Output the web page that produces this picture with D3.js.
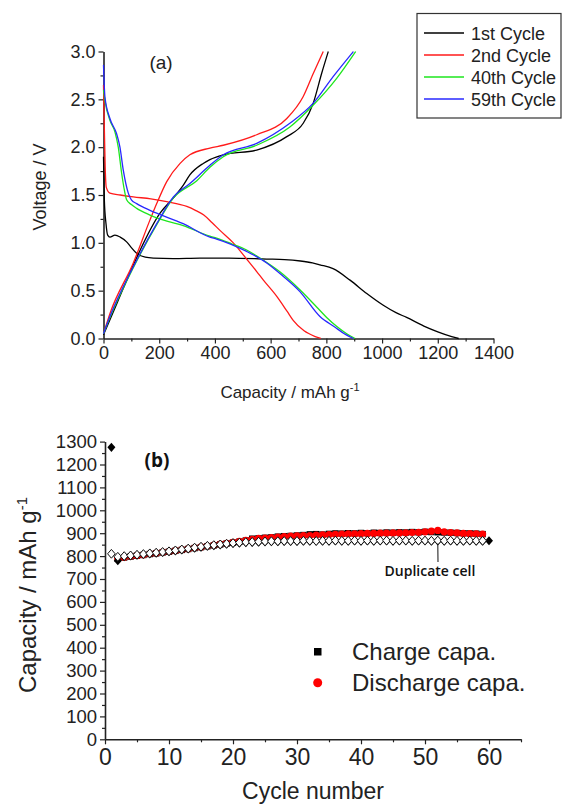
<!DOCTYPE html>
<html>
<head>
<meta charset="utf-8">
<script src="https://cdn.jsdelivr.net/npm/d3@7"></script>
<style>
  body { margin: 0; background: #fff; }
  svg { display: block; font-family: "Liberation Sans", Arial, sans-serif; }
</style>
</head>
<body>
<svg id="chart" width="562" height="805"></svg>
<script>
// ---- panel (a): voltage profiles [capacity mAh/g, voltage V]
const cycle1Discharge = [[0,1.9],[3,1.45],[9,1.2],[15,1.08],[23,1.06],[41,1.08],[60,1.06],[83,1.01],[100,0.95],[119,0.89],[150,0.85],[179,0.84],[250,0.835],[346,0.84],[450,0.84],[586,0.83],[650,0.825],[707,0.81],[750,0.79],[777,0.77],[824,0.73],[885,0.61],[945,0.47],[1003,0.35],[1050,0.27],[1088,0.22],[1150,0.13],[1200,0.07],[1250,0.02],[1275,0]];
const cycle1Charge = [[0,0.04],[50,0.38],[100,0.72],[131,0.92],[203,1.31],[251,1.47],[286,1.6],[310,1.71],[358,1.83],[382,1.87],[430,1.92],[550,1.97],[658,2.11],[717,2.25],[753,2.46],[783,2.77],[807,3.0]];
const cycle2Discharge = [[0,2.65],[3,2.2],[6,1.8],[10,1.58],[23,1.52],[60,1.5],[107,1.48],[170,1.46],[227,1.43],[299,1.38],[330,1.34],[360,1.29],[390,1.21],[418,1.13],[466,1.0],[514,0.83],[550,0.7],[574,0.61],[622,0.44],[660,0.28],[681,0.19],[720,0.08],[760,0.02],[780,0]];
const cycle2Charge = [[0,0.05],[23,0.26],[107,0.79],[167,1.24],[191,1.41],[227,1.64],[275,1.83],[310,1.92],[382,1.99],[430,2.02],[550,2.13],[658,2.3],[717,2.53],[753,2.77],[789,3.0]];
const cycle40Discharge = [[0,2.6],[5,2.49],[23,2.28],[41,2.16],[53,2.0],[65,1.73],[75,1.55],[83,1.45],[100,1.4],[119,1.36],[167,1.29],[191,1.26],[286,1.18],[382,1.07],[406,1.05],[460,0.99],[514,0.925],[562,0.84],[632,0.7],[705,0.51],[765,0.33],[801,0.22],[840,0.12],[873,0.05],[903,0]];
const cycle40Charge = [[0,0.05],[23,0.22],[107,0.74],[191,1.19],[251,1.47],[335,1.65],[382,1.79],[430,1.9],[550,2.02],[669,2.21],[753,2.44],[837,2.72],[905,3.0]];
const cycle59Discharge = [[0,2.86],[5,2.53],[23,2.3],[47,2.14],[59,2.0],[71,1.76],[89,1.52],[100,1.45],[119,1.41],[167,1.34],[191,1.31],[286,1.2],[382,1.06],[406,1.04],[514,0.91],[586,0.79],[645,0.65],[705,0.49],[777,0.23],[830,0.12],[870,0.04],[897,0]];
const cycle59Charge = [[0,0.05],[23,0.23],[107,0.75],[191,1.2],[251,1.48],[310,1.62],[382,1.81],[430,1.92],[550,2.04],[669,2.25],[753,2.46],[825,2.74],[897,3.0]];

const legendNames = ["1st Cycle", "2nd Cycle", "40th Cycle", "59th Cycle"];
const legendColors = ["#000000", "#ff1a1a", "#1ee61e", "#2828ff"];
const voltTicks = [0, 0.5, 1.0, 1.5, 2.0, 2.5, 3.0];
const capTicks = [0, 200, 400, 600, 800, 1000, 1200, 1400];

// ---- panel (b): capacity vs cycle number
const mainCycles = [2,3,4,5,6,7,8,9,10,11,12,13,14,15,16,17,18,19,20,21,22,23,24,25,26,27,28,29,30,31,32,33,34,35,36,37,38,39,40,41,42,43,44,45,46,47,48,49,50,51,52,53,54,55,56,57,58,59];
const chargeCapa = [788,794,798,802,805,809,812,816,819,823,827,831,835,839,843,847,851,855,859,863,868,876,878,880,882,885,887,888,890,892,895,896,894,897,899,898,900,899,901,900,902,901,903,902,904,903,905,904,906,905,904,903,902,901,900,899,898,896];
const dischargeCapa = [790,795,799,803,806,810,813,817,820,824,828,832,836,840,844,848,852,856,860,864,869,873,877,879,881,883,885,887,888,889,890,892,893,894,895,896,897,897,898,899,899,900,900,901,901,902,903,904,906,909,912,906,903,901,899,898,897,896];
const dupCycles = [1,2,3,4,5,6,7,8,9,10,11,12,13,14,15,16,17,18,19,20,21,22,23,24,25,26,27,28,29,30,31,32,33,34,35,36,37,38,39,40,41,42,43,44,45,46,47,48,49,50,51,52,53,54,55,56,57,58,59];
const dupCharge = [810,797,800,803,806,809,812,815,818,821,825,829,833,837,841,845,848,851,854,857,859,861,862,863,864,865,865,866,866,866,867,867,866,867,867,868,867,867,868,867,868,867,868,868,867,868,868,867,868,868,867,868,867,868,867,867,868,867,867];
const dupDischargeCycles = [1,2,3,4,5,6,7,8,9,10,11,12,13,14,15,16,17,18,19,20,21,22,23,24,25,26,27,28,29,30,31,32,33,34,35,36,37,38,39,40,41,42,43,44,45,46,47,48,49,50,51,52,53,54,55,56,57,58,59,60];
const dupDischarge = [1275,780,798,801,804,807,810,813,816,819,823,827,831,835,839,843,846,849,852,855,857,859,860,861,862,863,863,864,864,864,865,865,865,865,865,866,865,865,866,865,866,865,866,866,865,866,866,865,866,866,865,866,865,866,865,865,866,865,865,867];
const capaTicks = [0,100,200,300,400,500,600,700,800,900,1000,1100,1200,1300];
const cycleTicks = [0,10,20,30,40,50,60];

const svg = d3.select("#chart");

// ================= panel (a)
const xA = d3.scaleLinear().domain([0, 1400]).range([103.5, 493.5]);
const yA = d3.scaleLinear().domain([0, 3]).range([338.5, 51.5]);

const gA = svg.append("g");

// minor ticks
gA.append("g")
    .attr("transform", "translate(0,338.5)")
    .call(d3.axisBottom(xA).tickValues([100, 300, 500, 700, 900, 1100, 1300]).tickSize(3).tickFormat(""))
    .call(g => g.select(".domain").remove());
gA.append("g")
    .attr("transform", "translate(103.5,0)")
    .call(d3.axisLeft(yA).tickValues([0.25, 0.75, 1.25, 1.75, 2.25, 2.75]).tickSize(3).tickFormat(""))
    .call(g => g.select(".domain").remove());

const xAxisA = gA.append("g")
    .attr("transform", "translate(0,338.5)")
    .call(d3.axisBottom(xA).tickValues(capTicks).tickFormat(d3.format("d")).tickSize(5).tickSizeOuter(0).tickPadding(3));
const yAxisA = gA.append("g")
    .attr("transform", "translate(103.5,0)")
    .call(d3.axisLeft(yA).tickValues(voltTicks).tickFormat(d3.format(".1f")).tickSize(5).tickSizeOuter(0).tickPadding(3));

[xAxisA, yAxisA].forEach(a => {
    a.selectAll("text").attr("font-size", 18).attr("font-family", "Liberation Sans, Arial").attr("fill", "#222");
    a.select(".domain").attr("stroke-width", 1.6).attr("stroke", "#222");
});
gA.selectAll(".tick line").attr("stroke", "#222").attr("stroke-width", 1.2);

const lineA = d3.line()
    .x(d => xA(d[0]))
    .y(d => yA(d[1]))
    .curve(d3.curveMonotoneX);

const curvesA = [
    [cycle1Discharge, 0], [cycle1Charge, 0],
    [cycle2Discharge, 1], [cycle2Charge, 1],
    [cycle40Discharge, 2], [cycle40Charge, 2],
    [cycle59Discharge, 3], [cycle59Charge, 3]
];
curvesA.forEach(([data, k]) => {
    gA.append("path")
        .datum(data)
        .attr("fill", "none")
        .attr("stroke", legendColors[k])
        .attr("stroke-width", 1.3)
        .attr("d", lineA);
});

gA.append("text")
    .attr("x", 161).attr("y", 69)
    .attr("text-anchor", "middle")
    .attr("font-size", 19)
    .attr("fill", "#222")
    .text("(a)");

gA.append("text")
    .attr("transform", "translate(46,187) rotate(-90)")
    .attr("text-anchor", "middle")
    .attr("font-size", 18)
    .attr("fill", "#222")
    .text("Voltage / V");

const xLabA = gA.append("text")
    .attr("x", 290).attr("y", 398)
    .attr("text-anchor", "middle")
    .attr("font-size", 17)
    .attr("fill", "#222");
xLabA.append("tspan").text("Capacity / mAh g");
xLabA.append("tspan").attr("dy", -7).attr("font-size", 11).text("-1");

// legend (a)
const legA = gA.append("g");
legA.append("rect")
    .attr("x", 417).attr("y", 13.5)
    .attr("width", 144).attr("height", 104.5)
    .attr("fill", "#fff")
    .attr("stroke", "#333")
    .attr("stroke-width", 1.2);
legendNames.forEach((name, i) => {
    const y = 33 + i * 22;
    legA.append("line")
        .attr("x1", 424).attr("x2", 464)
        .attr("y1", y).attr("y2", y)
        .attr("stroke", legendColors[i])
        .attr("stroke-width", 1.3);
    legA.append("text")
        .attr("x", 471).attr("y", y + 6.5)
        .attr("font-size", 18)
        .attr("fill", "#222")
        .text(name);
});

// ================= panel (b)
const xB = d3.scaleLinear().domain([0, 65]).range([105, 521]);
const yB = d3.scaleLinear().domain([0, 1300]).range([739.3, 441.6]);

const gB = svg.append("g");

gB.append("g")
    .attr("transform", "translate(0,739.3)")
    .call(d3.axisBottom(xB).tickValues([5, 15, 25, 35, 45, 55, 65]).tickSize(3).tickFormat(""))
    .call(g => g.select(".domain").remove());
gB.append("g")
    .attr("transform", "translate(105,0)")
    .call(d3.axisLeft(yB).tickValues([50,150,250,350,450,550,650,750,850,950,1050,1150,1250]).tickSize(3).tickFormat(""))
    .call(g => g.select(".domain").remove());

const xAxisB = gB.append("g")
    .attr("transform", "translate(0,739.3)")
    .call(d3.axisBottom(xB).tickValues(cycleTicks).tickFormat(d3.format("d")).tickSize(5).tickSizeOuter(0).tickPadding(4));
const yAxisB = gB.append("g")
    .attr("transform", "translate(105,0)")
    .call(d3.axisLeft(yB).tickValues(capaTicks).tickFormat(d3.format("d")).tickSize(5).tickSizeOuter(0).tickPadding(3));

xAxisB.selectAll("text").attr("font-size", 23);
yAxisB.selectAll("text").attr("font-size", 18.5);
[xAxisB, yAxisB].forEach(a => {
    a.selectAll("text").attr("font-family", "Liberation Sans, Arial").attr("fill", "#222");
    a.select(".domain").attr("stroke-width", 1.6).attr("stroke", "#222");
});
gB.selectAll(".tick line").attr("stroke", "#222").attr("stroke-width", 1.2);

const diamond = (cx, cy, w, h) => `M${cx},${cy - h}L${cx + w},${cy}L${cx},${cy + h}L${cx - w},${cy}Z`;

// charge capa. (black squares)
gB.append("g").selectAll("rect")
    .data(mainCycles)
    .join("rect")
    .attr("x", c => xB(c) - 3.2)
    .attr("y", (c, i) => yB(chargeCapa[i]) - 3.2)
    .attr("width", 6.4).attr("height", 6.4)
    .attr("fill", "#000");

// discharge capa. (red circles)
gB.append("g").selectAll("circle")
    .data(mainCycles)
    .join("circle")
    .attr("cx", c => xB(c))
    .attr("cy", (c, i) => yB(dischargeCapa[i]))
    .attr("r", 3.6)
    .attr("fill", "#ff0000");

// duplicate cell, discharge (filled diamonds)
gB.append("g").selectAll("path")
    .data(dupDischargeCycles)
    .join("path")
    .attr("d", (c, i) => diamond(xB(c), yB(dupDischarge[i]), 4, 4.6))
    .attr("fill", "#000");

// duplicate cell, charge (open diamonds)
gB.append("g").selectAll("path")
    .data(dupCycles)
    .join("path")
    .attr("d", (c, i) => diamond(xB(c), yB(dupCharge[i]), 3.8, 4.4))
    .attr("fill", "#fff")
    .attr("stroke", "#111")
    .attr("stroke-width", 1);

gB.append("text")
    .attr("x", 157).attr("y", 467)
    .attr("text-anchor", "middle")
    .attr("font-family", "Open Sans, sans-serif")
    .attr("font-weight", 700)
    .attr("font-size", 19)
    .attr("fill", "#111")
    .text("(b)");

// duplicate cell annotation
gB.append("line")
    .attr("x1", xB(52)).attr("y1", yB(868) + 3)
    .attr("x2", 438).attr("y2", 562)
    .attr("stroke", "#111")
    .attr("stroke-width", 1);
gB.append("text")
    .attr("x", 430).attr("y", 576)
    .attr("text-anchor", "middle")
    .attr("font-family", "Open Sans, sans-serif")
    .attr("font-weight", 600)
    .attr("font-size", 14)
    .attr("fill", "#111")
    .text("Duplicate cell");

gB.append("text")
    .attr("transform", "translate(36,595) rotate(-90)")
    .attr("text-anchor", "middle")
    .attr("font-size", 24)
    .attr("fill", "#222")
    .text("Capacity / mAh g")
    .append("tspan").attr("dy", -9).attr("font-size", 15).text("-1");

gB.append("text")
    .attr("x", 313).attr("y", 799)
    .attr("text-anchor", "middle")
    .attr("font-size", 23)
    .attr("fill", "#222")
    .text("Cycle number");

// legend (b)
gB.append("rect")
    .attr("x", 314).attr("y", 648)
    .attr("width", 7.5).attr("height", 7.5)
    .attr("fill", "#000");
gB.append("circle")
    .attr("cx", 317.7).attr("cy", 682.7)
    .attr("r", 4.5)
    .attr("fill", "#ff0000");
gB.append("text")
    .attr("x", 352).attr("y", 660)
    .attr("font-size", 24)
    .attr("fill", "#222")
    .text("Charge capa.");
gB.append("text")
    .attr("x", 352).attr("y", 691)
    .attr("font-size", 24)
    .attr("fill", "#222")
    .text("Discharge capa.");
</script>
</body>
</html>
